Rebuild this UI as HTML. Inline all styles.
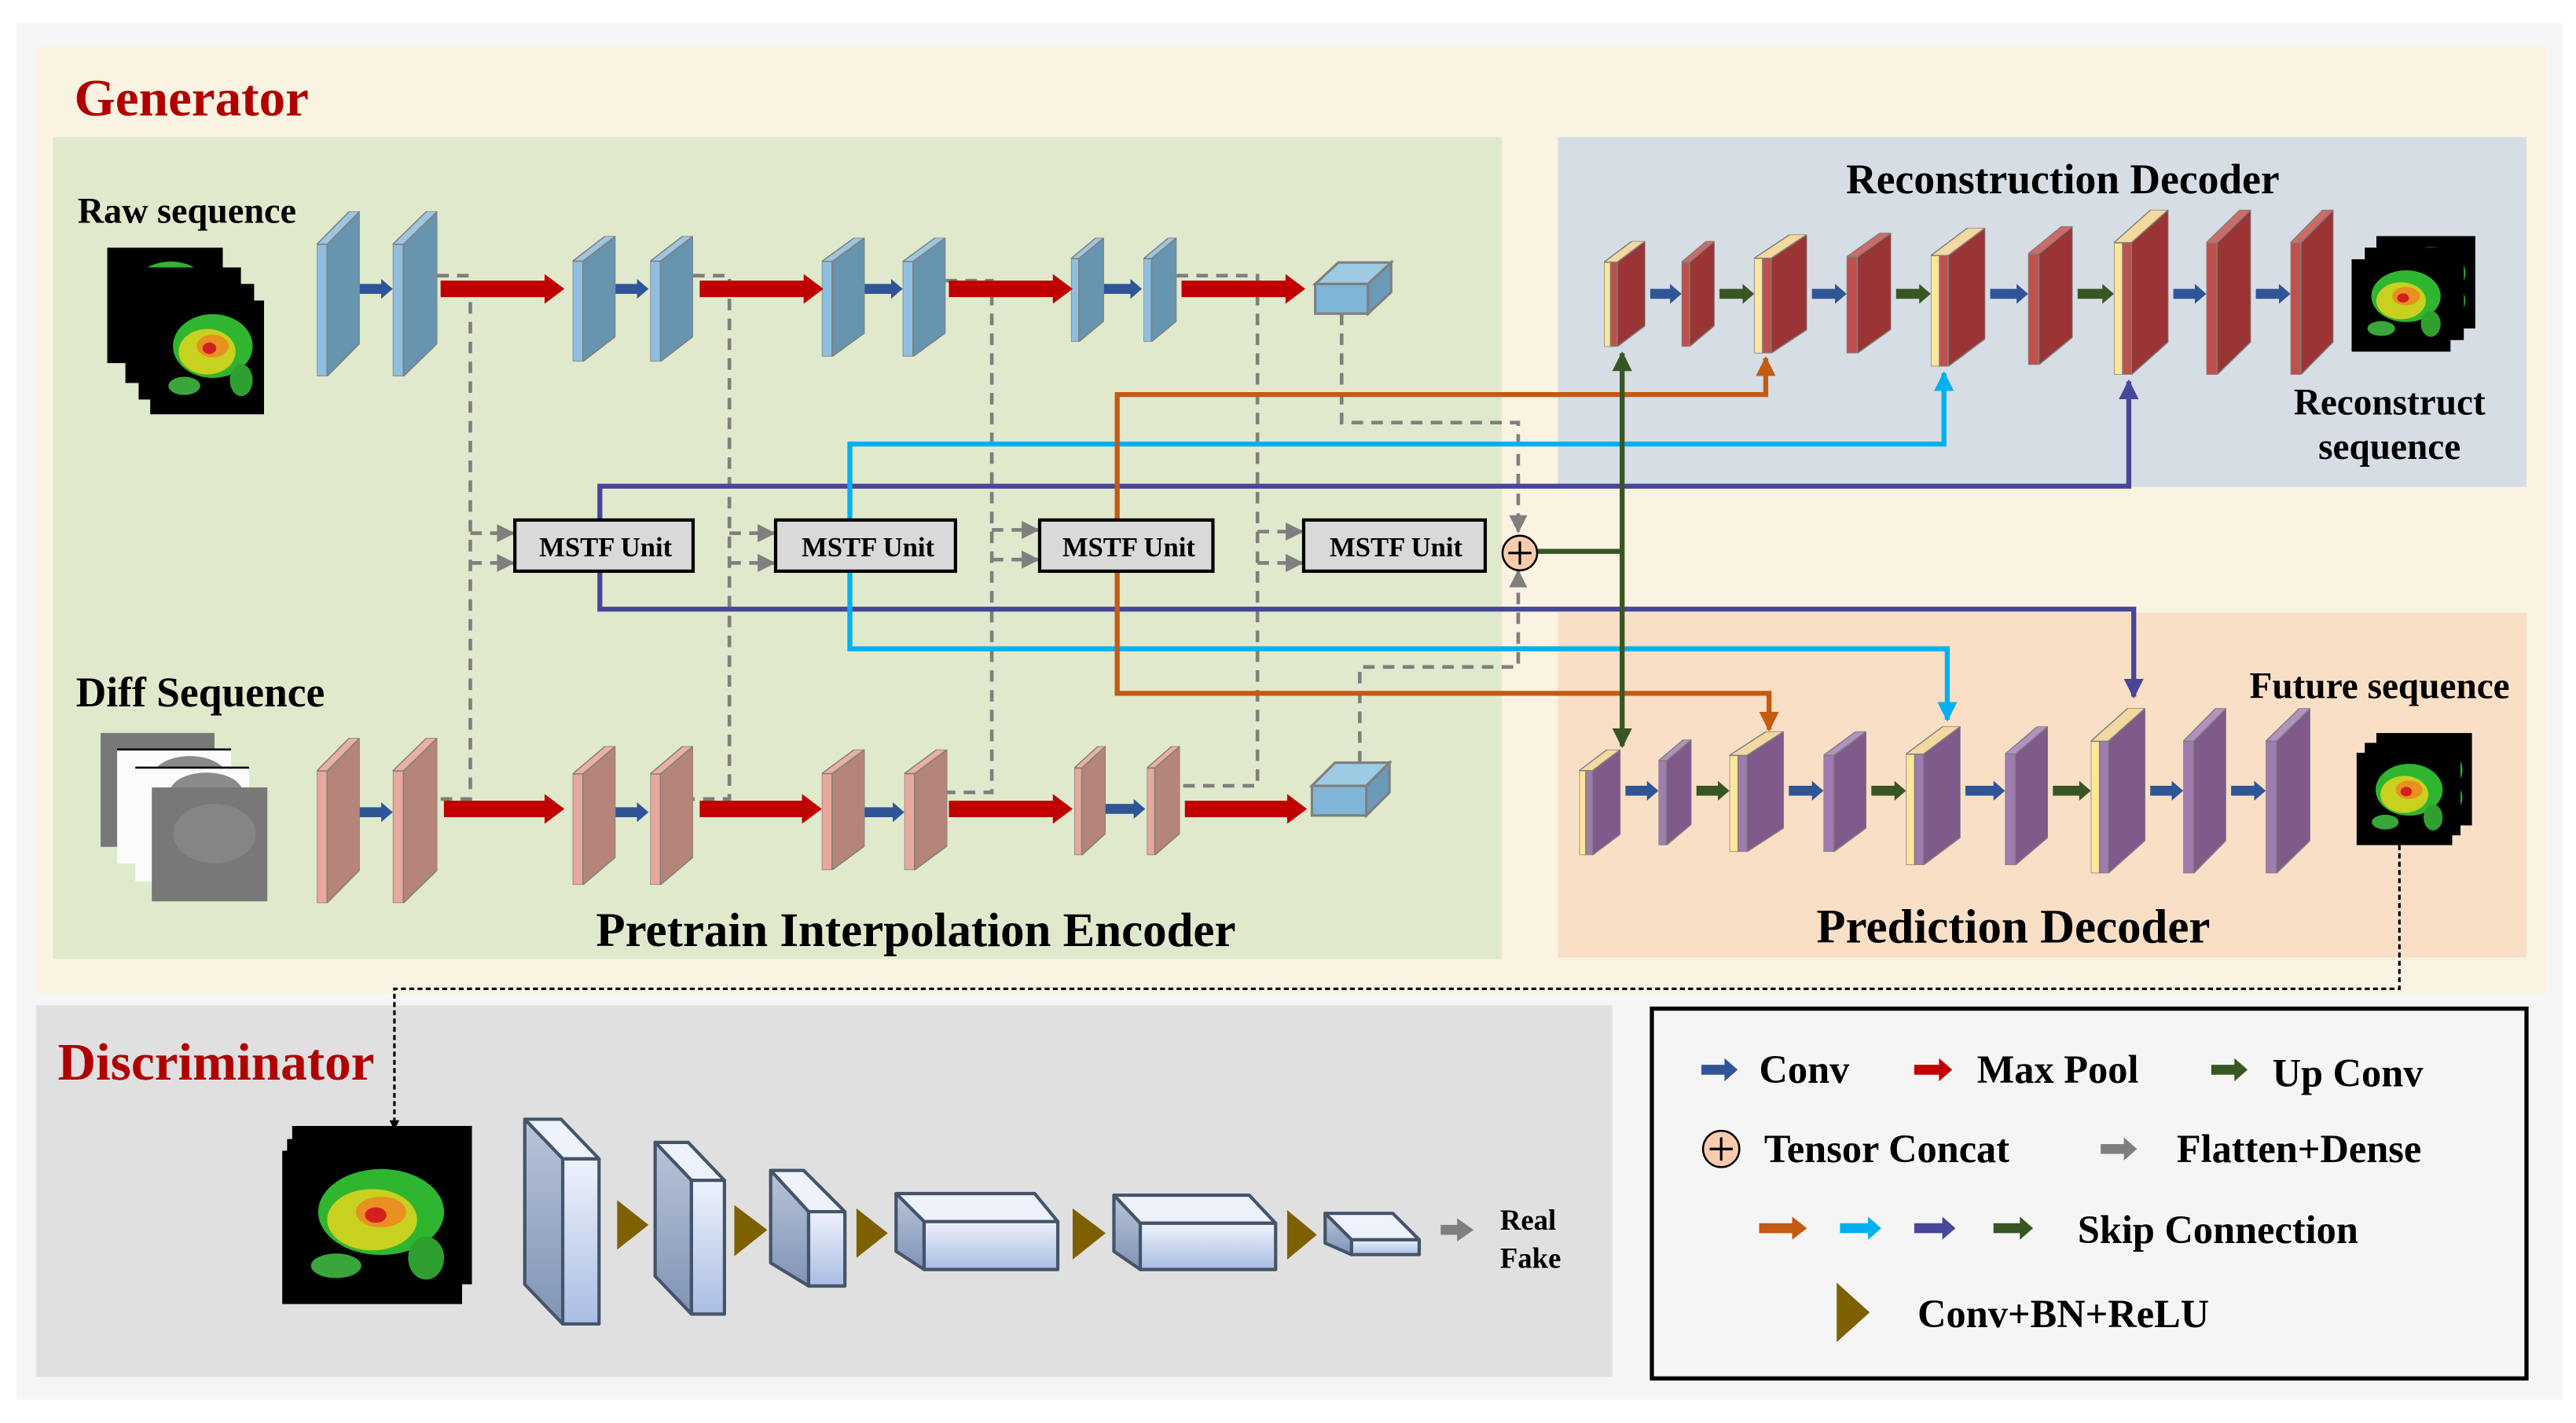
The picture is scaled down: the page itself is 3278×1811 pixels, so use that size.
<!DOCTYPE html>
<html><head><meta charset="utf-8"><style>html,body{margin:0;padding:0;background:#fff}svg{display:block}text{font-family:"Liberation Serif",serif;font-weight:bold}</style></head><body>
<svg width="3278" height="1811" viewBox="0 0 1561 862" preserveAspectRatio="none" xmlns="http://www.w3.org/2000/svg">
<defs>
<symbol id="encB" viewBox="0 0 100 100" preserveAspectRatio="none">
<rect x="0" y="20" width="24" height="80" fill="#8ebfe0" stroke="#7f7f7f" stroke-width="1.5" vector-effect="non-scaling-stroke"/>
<polygon points="24,20 100,0 100,80 24,100" fill="#6794ae" stroke="#7f7f7f" stroke-width="1.5" vector-effect="non-scaling-stroke"/>
<polygon points="0,20 76,0 100,0 24,20" fill="#9dc6e0" stroke="#7f7f7f" stroke-width="1.5" vector-effect="non-scaling-stroke"/>
</symbol>
<symbol id="encP" viewBox="0 0 100 100" preserveAspectRatio="none">
<rect x="0" y="20" width="24" height="80" fill="#e8a89b" stroke="#7f7f7f" stroke-width="1.5" vector-effect="non-scaling-stroke"/>
<polygon points="24,20 100,0 100,80 24,100" fill="#b5857a" stroke="#7f7f7f" stroke-width="1.5" vector-effect="non-scaling-stroke"/>
<polygon points="0,20 76,0 100,0 24,20" fill="#eab0a2" stroke="#7f7f7f" stroke-width="1.5" vector-effect="non-scaling-stroke"/>
</symbol>
<symbol id="decR" viewBox="0 0 100 100" preserveAspectRatio="none">
<rect x="0" y="20" width="24" height="80" fill="#c0504d" stroke="#7f7f7f" stroke-width="1.5" vector-effect="non-scaling-stroke"/>
<polygon points="24,20 100,0 100,80 24,100" fill="#9b3535" stroke="#7f7f7f" stroke-width="1.5" vector-effect="non-scaling-stroke"/>
<polygon points="0,20 76,0 100,0 24,20" fill="#d06a66" stroke="#7f7f7f" stroke-width="1.5" vector-effect="non-scaling-stroke"/>
</symbol>
<symbol id="catR" viewBox="0 0 100 100" preserveAspectRatio="none">
<rect x="0" y="20" width="16" height="80" fill="#ffe699" stroke="#7f7f7f" stroke-width="1.5" vector-effect="non-scaling-stroke"/>
<rect x="16" y="20" width="16" height="80" fill="#c0504d" stroke="#7f7f7f" stroke-width="1.5" vector-effect="non-scaling-stroke"/>
<polygon points="32,20 100,0 100,80 32,100" fill="#9b3535" stroke="#7f7f7f" stroke-width="1.5" vector-effect="non-scaling-stroke"/>
<polygon points="0,20 68,0 100,0 32,20" fill="#f3d9a0" stroke="#7f7f7f" stroke-width="1.5" vector-effect="non-scaling-stroke"/>
</symbol>
<symbol id="decV" viewBox="0 0 100 100" preserveAspectRatio="none">
<rect x="0" y="20" width="24" height="80" fill="#a07cb0" stroke="#7f7f7f" stroke-width="1.5" vector-effect="non-scaling-stroke"/>
<polygon points="24,20 100,0 100,80 24,100" fill="#7f5a8a" stroke="#7f7f7f" stroke-width="1.5" vector-effect="non-scaling-stroke"/>
<polygon points="0,20 76,0 100,0 24,20" fill="#b293c0" stroke="#7f7f7f" stroke-width="1.5" vector-effect="non-scaling-stroke"/>
</symbol>
<symbol id="catV" viewBox="0 0 100 100" preserveAspectRatio="none">
<rect x="0" y="20" width="16" height="80" fill="#ffe699" stroke="#7f7f7f" stroke-width="1.5" vector-effect="non-scaling-stroke"/>
<rect x="16" y="20" width="16" height="80" fill="#a07cb0" stroke="#7f7f7f" stroke-width="1.5" vector-effect="non-scaling-stroke"/>
<polygon points="32,20 100,0 100,80 32,100" fill="#7f5a8a" stroke="#7f7f7f" stroke-width="1.5" vector-effect="non-scaling-stroke"/>
<polygon points="0,20 68,0 100,0 32,20" fill="#f3d9a0" stroke="#7f7f7f" stroke-width="1.5" vector-effect="non-scaling-stroke"/>
</symbol>
<symbol id="radar" viewBox="0 0 100 100" preserveAspectRatio="none">
<rect width="100" height="100" fill="#000"/>
<ellipse cx="55" cy="40" rx="35" ry="28" fill="#2fb52f"/>
<ellipse cx="50" cy="45" rx="25" ry="20" fill="#c8d020"/>
<ellipse cx="55" cy="40" rx="14" ry="10" fill="#e89020"/>
<ellipse cx="52" cy="42" rx="6" ry="5" fill="#d02020"/>
<ellipse cx="30" cy="75" rx="14" ry="8" fill="#3aa53a"/>
<ellipse cx="80" cy="70" rx="10" ry="14" fill="#2f9f2f"/>
</symbol>
<linearGradient id="dg" x1="0" y1="0" x2="0" y2="1"><stop offset="0" stop-color="#eef2fb"/><stop offset="1" stop-color="#a9bde3"/></linearGradient>
<linearGradient id="dl" x1="0" y1="0" x2="0" y2="1"><stop offset="0" stop-color="#b9c4d6"/><stop offset="1" stop-color="#8094b8"/></linearGradient>
<marker id="ag" viewBox="0 0 10 10" refX="9" refY="5" markerWidth="5" markerHeight="5" orient="auto"><path d="M0,0 L10,5 L0,10 z" fill="#7f7f7f"/></marker>
<marker id="ak" viewBox="0 0 10 10" refX="9" refY="5" markerWidth="4" markerHeight="5" orient="auto"><path d="M0,0 L10,5 L0,10 z" fill="#000"/></marker>
<marker id="ap" viewBox="0 0 10 10" refX="9" refY="5" markerWidth="4" markerHeight="4" orient="auto"><path d="M0,0 L10,5 L0,10 z" fill="#46469a"/></marker>
<marker id="ac" viewBox="0 0 10 10" refX="9" refY="5" markerWidth="4" markerHeight="4" orient="auto"><path d="M0,0 L10,5 L0,10 z" fill="#00b0f0"/></marker>
<marker id="ao" viewBox="0 0 10 10" refX="9" refY="5" markerWidth="4" markerHeight="4" orient="auto"><path d="M0,0 L10,5 L0,10 z" fill="#c55a11"/></marker>
<marker id="an" viewBox="0 0 10 10" refX="9" refY="5" markerWidth="4" markerHeight="4" orient="auto"><path d="M0,0 L10,5 L0,10 z" fill="#375623"/></marker>
</defs>

<rect x="0" y="0" width="1561" height="862" fill="#fff"/>
<rect x="10" y="14" width="1543" height="834" fill="#f5f5f5"/>
<rect x="22" y="28" width="1521" height="574" fill="#faf3e1"/>
<rect x="32" y="83" width="878" height="498" fill="#e1e9cc"/>
<rect x="944" y="83" width="587" height="212" fill="#d6dde4"/>
<rect x="944" y="371" width="587" height="209" fill="#f9dfc6"/>
<rect x="22" y="609" width="955" height="225" fill="#e0e0e0"/>
<rect x="1001" y="611" width="530" height="224" fill="#f5f5f5" stroke="#000" stroke-width="2.5"/>

<text x="45" y="70" font-size="32" fill="#b00000">Generator</text>
<text x="47" y="135" font-size="22">Raw sequence</text>
<text x="46" y="428" font-size="25.5">Diff Sequence</text>
<text x="555" y="573" font-size="29" text-anchor="middle">Pretrain Interpolation Encoder</text>
<text x="1250" y="117" font-size="25.5" text-anchor="middle">Reconstruction Decoder</text>
<text x="1448" y="251" font-size="22.5" text-anchor="middle">Reconstruct</text>
<text x="1448" y="278" font-size="22.5" text-anchor="middle">sequence</text>
<text x="1442" y="423" font-size="22.5" text-anchor="middle">Future sequence</text>
<text x="1220" y="571" font-size="29" text-anchor="middle">Prediction Decoder</text>
<text x="35" y="654" font-size="32" fill="#b00000">Discriminator</text>

<use href="#radar" x="65" y="150" width="70" height="70"/>
<rect x="76" y="162" width="70" height="70" fill="#000"/>
<rect x="84" y="172" width="70" height="70" fill="#000"/>
<use href="#radar" x="91" y="182" width="69" height="69"/>
<rect x="61" y="444" width="69" height="69" fill="#787878"/>
<rect x="71" y="454" width="69" height="69" fill="#fbfbfb"/><line x1="71" y1="454" x2="140" y2="454" stroke="#000" stroke-width="1.2"/>
<ellipse cx="115" cy="470" rx="22" ry="12" fill="#8a8a8a"/>
<rect x="82" y="465" width="69" height="69" fill="#fbfbfb"/><line x1="82" y1="465" x2="151" y2="465" stroke="#000" stroke-width="1.2"/>
<ellipse cx="125" cy="480" rx="22" ry="12" fill="#8a8a8a"/>
<rect x="92" y="477" width="70" height="69" fill="#787878"/>
<ellipse cx="130" cy="505" rx="25" ry="18" fill="#858585"/>

<g fill="none" stroke="#7f7f7f" stroke-width="2.2" stroke-dasharray="7,5">
<path d="M265,167 H285 V484 H265"/>
<path d="M420,167 H442 V484 H420"/>
<path d="M573,170 H601 V480 H574"/>
<path d="M713,167 H762 V476 H715"/>
<path d="M813,190 V256 H920 V321"/>
<path d="M824,462 V404 H920 V347"/>
</g>
<g fill="none" stroke="#7f7f7f" stroke-width="2.2" stroke-dasharray="7,5" marker-end="url(#ag)">
<path d="M285,323 H311"/><path d="M285,341 H311"/>
<path d="M442,323 H469"/><path d="M442,341 H469"/>
<path d="M601,321 H629"/><path d="M601,339 H629"/>
<path d="M762,322 H789"/><path d="M762,341 H789"/>
<path d="M920,316 V322" stroke-dasharray="none"/><path d="M920,352 V346" stroke-dasharray="none"/>
</g>

<use href="#encB" x="192" y="128" width="26" height="100"/>
<use href="#encB" x="238" y="128" width="27" height="100"/>
<use href="#encB" x="347" y="143" width="26" height="76"/>
<use href="#encB" x="394" y="143" width="26" height="76"/>
<use href="#encB" x="498" y="144" width="26" height="72"/>
<use href="#encB" x="547" y="144" width="26" height="72"/>
<use href="#encB" x="649" y="144" width="20" height="63"/>
<use href="#encB" x="693" y="144" width="20" height="63"/>
<use href="#encP" x="192" y="447" width="26" height="100"/>
<use href="#encP" x="238" y="447" width="27" height="100"/>
<use href="#encP" x="347" y="452" width="26" height="84"/>
<use href="#encP" x="394" y="452" width="26" height="84"/>
<use href="#encP" x="498" y="454" width="26" height="73"/>
<use href="#encP" x="548" y="454" width="26" height="73"/>
<use href="#encP" x="651" y="452" width="19" height="66"/>
<use href="#encP" x="695" y="452" width="20" height="66"/>

<g stroke="#7f7f7f" stroke-width="1.5">
<rect x="797" y="172" width="32" height="18" fill="#7fb5d6"/>
<polygon points="797,172 811,159 843,159 829,172" fill="#9dcbe4"/>
<polygon points="829,172 843,159 843,177 829,190" fill="#6a9ab8"/>
<rect x="795" y="476" width="33" height="18" fill="#7fb5d6"/>
<polygon points="795,476 809,462 842,462 828,476" fill="#9dcbe4"/>
<polygon points="828,476 842,462 842,480 828,494" fill="#6a9ab8"/>
</g>

<g fill="#c00000">
<polygon points="267,170 330,170 330,166 342,175 330,184 330,180 267,180"/>
<polygon points="424,170 487,170 487,166 499,175 487,184 487,180 424,180"/>
<polygon points="575,170 638,170 638,166 650,175 638,184 638,180 575,180"/>
<polygon points="716,170 779,170 779,166 791,175 779,184 779,180 716,180"/>
<polygon points="269,485 330,485 330,481 342,490 330,499 330,495 269,495"/>
<polygon points="424,485 486,485 486,481 498,490 486,499 486,495 424,495"/>
<polygon points="575,485 638,485 638,481 650,490 638,499 638,495 575,495"/>
<polygon points="718,485 780,485 780,481 792,490 780,499 780,495 718,495"/>
</g>
<g fill="#2f5597">
<polygon points="218,172 231,172 231,169 238,175 231,181 231,178 218,178"/>
<polygon points="373,172 386,172 386,169 393,175 386,181 386,178 373,178"/>
<polygon points="524,172 540,172 540,169 547,175 540,181 540,178 524,178"/>
<polygon points="669,172 685,172 685,169 692,175 685,181 685,178 669,178"/>
<polygon points="218,489 231,489 231,486 238,492 231,498 231,495 218,495"/>
<polygon points="373,489 386,489 386,486 393,492 386,498 386,495 373,495"/>
<polygon points="524,489 541,489 541,486 548,492 541,498 541,495 524,495"/>
<polygon points="670,487 687,487 687,484 694,490 687,496 687,493 670,493"/>
</g>

<g fill="none" stroke-width="3">
<path d="M363.5,316 V294.5 H1290 V231" stroke="#46469a" marker-end="url(#ap)"/>
<path d="M363.5,347 V369 H1293 V422" stroke="#46469a" marker-end="url(#ap)"/>
<path d="M515,316 V269 H1178 V226" stroke="#00b0f0" marker-end="url(#ac)"/>
<path d="M515,347 V393 H1180 V436" stroke="#00b0f0" marker-end="url(#ac)"/>
<path d="M677,316 V239 H1070 V217" stroke="#c55a11" marker-end="url(#ao)"/>
<path d="M677,347 V420 H1072 V442" stroke="#c55a11" marker-end="url(#ao)"/>
<path d="M931,334 H983" stroke="#375623"/>
<path d="M983,334 V214" stroke="#375623" marker-end="url(#an)"/>
<path d="M983,334 V452" stroke="#375623" marker-end="url(#an)"/>
</g>

<g stroke="#000" stroke-width="2" fill="#d9d9d9">
<rect x="312" y="315" width="108" height="31"/>
<rect x="470" y="315" width="109" height="31"/>
<rect x="630" y="315" width="105" height="31"/>
<rect x="790" y="315" width="110" height="31"/>
</g>
<g font-size="16.5" text-anchor="middle">
<text x="367" y="337">MSTF Unit</text>
<text x="526" y="337">MSTF Unit</text>
<text x="684" y="337">MSTF Unit</text>
<text x="846" y="337">MSTF Unit</text>
</g>
<circle cx="921" cy="335" r="10.5" fill="#f8cbad" stroke="#000" stroke-width="1.2"/>
<path d="M914,335 H928 M921,328 V342" stroke="#000" stroke-width="1.5"/>

<use href="#catR" x="972" y="146" width="25" height="64"/>
<use href="#decR" x="1019" y="146" width="20" height="64"/>
<use href="#catR" x="1063" y="142" width="32" height="72"/>
<use href="#decR" x="1119" y="141" width="27" height="73"/>
<use href="#catR" x="1170" y="138" width="33" height="84"/>
<use href="#decR" x="1229" y="137" width="27" height="84"/>
<use href="#catR" x="1281" y="127" width="33" height="100"/>
<use href="#decR" x="1337" y="127" width="27" height="100"/>
<use href="#decR" x="1388" y="127" width="26" height="100"/>
<use href="#radar" x="1440" y="143" width="60" height="56"/>
<rect x="1433" y="150" width="60" height="56" fill="#000"/>
<use href="#radar" x="1425" y="157" width="60" height="56"/>
<use href="#catV" x="957" y="454" width="25" height="64"/>
<use href="#decV" x="1005" y="448" width="20" height="64"/>
<use href="#catV" x="1048" y="443" width="33" height="73"/>
<use href="#decV" x="1105" y="443" width="26" height="73"/>
<use href="#catV" x="1155" y="440" width="33" height="84"/>
<use href="#decV" x="1215" y="440" width="26" height="84"/>
<use href="#catV" x="1267" y="429" width="33" height="100"/>
<use href="#decV" x="1323" y="429" width="26" height="100"/>
<use href="#decV" x="1373" y="429" width="27" height="100"/>
<use href="#radar" x="1440" y="444" width="58" height="56"/>
<rect x="1433" y="450" width="58" height="56" fill="#000"/>
<use href="#radar" x="1428" y="456" width="58" height="56"/>

<g fill="#2f5597">
<polygon points="1000,175 1012,175 1012,172 1019,178 1012,184 1012,181 1000,181"/>
<polygon points="1098,175 1112,175 1112,172 1119,178 1112,184 1112,181 1098,181"/>
<polygon points="1206,175 1222,175 1222,172 1229,178 1222,184 1222,181 1206,181"/>
<polygon points="1317,175 1330,175 1330,172 1337,178 1330,184 1330,181 1317,181"/>
<polygon points="1367,175 1381,175 1381,172 1388,178 1381,184 1381,181 1367,181"/>
<polygon points="985,476 998,476 998,473 1005,479 998,485 998,482 985,482"/>
<polygon points="1084,476 1098,476 1098,473 1105,479 1098,485 1098,482 1084,482"/>
<polygon points="1191,476 1208,476 1208,473 1215,479 1208,485 1208,482 1191,482"/>
<polygon points="1303,476 1316,476 1316,473 1323,479 1316,485 1316,482 1303,482"/>
<polygon points="1352,476 1366,476 1366,473 1373,479 1366,485 1366,482 1352,482"/>
</g>
<g fill="#375623">
<polygon points="1042,175 1056,175 1056,172 1063,178 1056,184 1056,181 1042,181"/>
<polygon points="1149,175 1163,175 1163,172 1170,178 1163,184 1163,181 1149,181"/>
<polygon points="1259,175 1274,175 1274,172 1281,178 1274,184 1274,181 1259,181"/>
<polygon points="1028,476 1041,476 1041,473 1048,479 1041,485 1041,482 1028,482"/>
<polygon points="1134,476 1148,476 1148,473 1155,479 1148,485 1148,482 1134,482"/>
<polygon points="1244,476 1260,476 1260,473 1267,479 1260,485 1260,482 1244,482"/>
</g>

<path d="M1454,512 V599 H239 V684" fill="none" stroke="#000" stroke-width="1.5" stroke-dasharray="3,2" marker-end="url(#ak)"/>

<use href="#radar" x="177" y="682" width="109" height="96"/>
<rect x="174" y="690" width="106" height="96" fill="#000"/>
<use href="#radar" x="171" y="697" width="109" height="93"/>
<g stroke="#44546a" stroke-width="2" stroke-linejoin="round">
<polygon points="318,678 340,678 363,702 341,702" fill="#eef2fb"/>
<polygon points="318,678 341,702 341,802 318,778" fill="url(#dl)"/>
<rect x="341" y="702" width="22" height="100" fill="url(#dg)"/>
<polygon points="397,692 417,692 439,715 419,715" fill="#eef2fb"/>
<polygon points="397,692 419,715 419,796 397,773" fill="url(#dl)"/>
<rect x="419" y="715" width="20" height="81" fill="url(#dg)"/>
<polygon points="467,709 487,709 512,734 490,734" fill="#eef2fb"/>
<polygon points="467,709 490,734 490,779 467,765" fill="url(#dl)"/>
<rect x="490" y="734" width="22" height="45" fill="url(#dg)"/>
<polygon points="543,723 627,723 641,740 560,740" fill="#eef2fb"/>
<polygon points="543,723 560,740 560,769 543,758" fill="url(#dl)"/>
<rect x="560" y="740" width="81" height="29" fill="url(#dg)"/>
<polygon points="675,724 757,724 773,741 691,741" fill="#eef2fb"/>
<polygon points="675,724 691,741 691,769 675,758" fill="url(#dl)"/>
<rect x="691" y="741" width="82" height="28" fill="url(#dg)"/>
<polygon points="803,735 844,735 860,751 819,751" fill="#eef2fb"/>
<polygon points="803,735 819,751 819,760 803,753" fill="url(#dl)"/>
<rect x="819" y="751" width="41" height="9" fill="url(#dg)"/>
</g>
<g fill="#7f6000">
<polygon points="374,727 393,742 374,757"/>
<polygon points="445,730 465,745 445,761"/>
<polygon points="519,732 538,747 519,762"/>
<polygon points="650,732 670,747 650,763"/>
<polygon points="780,733 798,748 780,763"/>
</g>
<polygon points="873,742 883,742 883,738 893,745 883,752 883,748 873,748" fill="#7f7f7f"/>
<text x="909" y="745" font-size="17.5">Real</text>
<text x="909" y="768" font-size="17.5">Fake</text>

<g font-size="24">
<polygon points="1031,645 1045,645 1045,641 1053,648 1045,655 1045,651 1031,651" fill="#2f5597"/>
<text x="1066" y="656">Conv</text>
<polygon points="1160,645 1175,645 1175,641 1183,648 1175,655 1175,651 1160,651" fill="#c00000"/>
<text x="1198" y="656">Max Pool</text>
<polygon points="1340,645 1354,645 1354,641 1362,648 1354,655 1354,651 1340,651" fill="#375623"/>
<text x="1377" y="658">Up Conv</text>
<circle cx="1043" cy="696" r="11" fill="#f8cbad" stroke="#000" stroke-width="1.2"/>
<path d="M1036,696 H1050 M1043,689 V703" stroke="#000" stroke-width="1.5"/>
<text x="1069" y="704">Tensor Concat</text>
<polygon points="1273,693 1287,693 1287,689 1295,696 1287,703 1287,699 1273,699" fill="#7f7f7f"/>
<text x="1319" y="704">Flatten+Dense</text>
<polygon points="1066,741 1086,741 1086,737 1095,744 1086,751 1086,747 1066,747" fill="#c55a11"/>
<polygon points="1115,741 1132,741 1132,737 1140,744 1132,751 1132,747 1115,747" fill="#00b0f0"/>
<polygon points="1160,741 1177,741 1177,737 1185,744 1177,751 1177,747 1160,747" fill="#46469a"/>
<polygon points="1208,741 1224,741 1224,737 1232,744 1224,751 1224,747 1208,747" fill="#375623"/>
<text x="1259" y="753">Skip Connection</text>
<polygon points="1113,777 1133,795 1113,813" fill="#7f6000"/>
<text x="1162" y="804">Conv+BN+ReLU</text>
</g>
</svg>
</body></html>
